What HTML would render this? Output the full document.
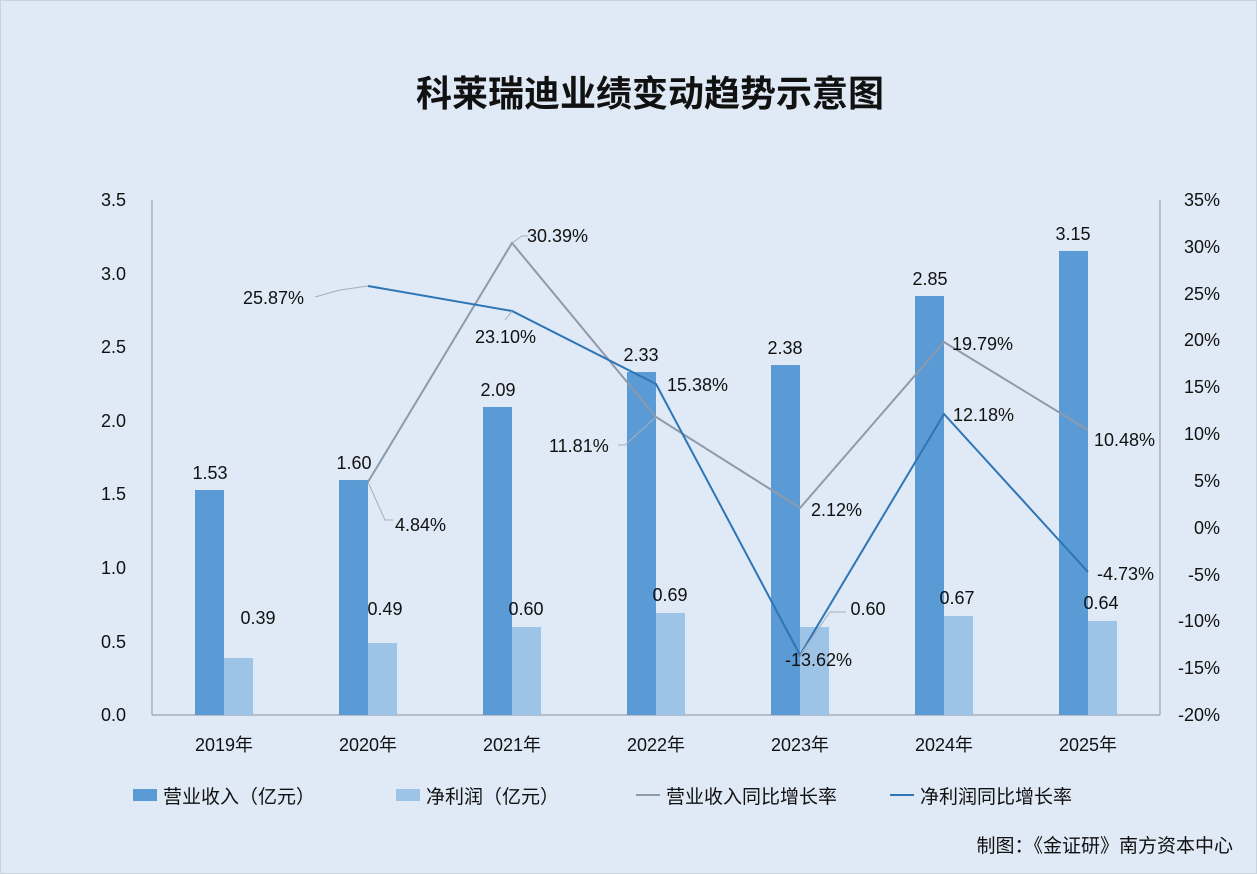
<!DOCTYPE html>
<html><head><meta charset="utf-8"><style>
body{margin:0;background:#dfeaf6;}
svg{display:block}
text{font-family:"Liberation Sans","Noto Sans CJK SC",sans-serif;fill:#111;}
</style></head><body>
<svg width="1257" height="874" viewBox="0 0 1257 874">
<rect x="0" y="0" width="1257" height="874" fill="#dfeaf6"/>
<rect x="0.5" y="0.5" width="1256" height="873" fill="none" stroke="#c8d3de"/>
<text x="650" y="106" font-size="36" font-weight="bold" text-anchor="middle">科莱瑞迪业绩变动趋势示意图</text>
<g stroke="#9aa3ad" stroke-width="1.2" fill="none">
<line x1="152" y1="200" x2="152" y2="715"/>
<line x1="152" y1="715" x2="1160" y2="715"/>
<line x1="1160" y1="200" x2="1160" y2="715"/>
</g>
<g font-size="18" text-anchor="end">
<text x="126" y="206">3.5</text><text x="126" y="280">3.0</text><text x="126" y="353">2.5</text>
<text x="126" y="427">2.0</text><text x="126" y="500">1.5</text><text x="126" y="574">1.0</text>
<text x="126" y="648">0.5</text><text x="126" y="721">0.0</text>
</g>
<g font-size="18" text-anchor="end">
<text x="1220" y="206">35%</text><text x="1220" y="253">30%</text><text x="1220" y="300">25%</text>
<text x="1220" y="346">20%</text><text x="1220" y="393">15%</text><text x="1220" y="440">10%</text>
<text x="1220" y="487">5%</text><text x="1220" y="534">0%</text><text x="1220" y="581">-5%</text>
<text x="1220" y="627">-10%</text><text x="1220" y="674">-15%</text><text x="1220" y="721">-20%</text>
</g>
<g fill="#5b9bd5">
<rect x="195" y="490" width="29" height="225"/>
<rect x="339" y="480" width="29" height="235"/>
<rect x="483" y="407" width="29" height="308"/>
<rect x="627" y="372" width="29" height="343"/>
<rect x="771" y="365" width="29" height="350"/>
<rect x="915" y="296" width="29" height="419"/>
<rect x="1059" y="251" width="29" height="464"/>
</g>
<g fill="#9dc3e6">
<rect x="224" y="658" width="29" height="57"/>
<rect x="368" y="643" width="29" height="72"/>
<rect x="512" y="627" width="29" height="88"/>
<rect x="656" y="613" width="29" height="102"/>
<rect x="800" y="627" width="29" height="88"/>
<rect x="944" y="616" width="29" height="99"/>
<rect x="1088" y="621" width="29" height="94"/>
</g>
<g font-size="18" text-anchor="middle">
<text x="210" y="479">1.53</text><text x="354" y="469">1.60</text><text x="498" y="396">2.09</text>
<text x="641" y="361">2.33</text><text x="785" y="354">2.38</text><text x="930" y="285">2.85</text>
<text x="1073" y="240">3.15</text>
<text x="258" y="624">0.39</text><text x="385" y="615">0.49</text><text x="526" y="615">0.60</text>
<text x="670" y="601">0.69</text><text x="868" y="615">0.60</text><text x="957" y="604">0.67</text>
<text x="1101" y="609">0.64</text>
</g>
<polyline fill="none" stroke="#8e9aab" stroke-width="2" points="368,482 512,243 656,417 800,508 944,342 1088,430"/>
<polyline fill="none" stroke="#2e75b6" stroke-width="2" points="368,286 512,311 656,384 800,655 944,414 1088,572"/>
<g stroke="#a6aeb8" stroke-width="1" fill="none">
<polyline points="315,297 340,290 368,286"/>
<polyline points="368,482 385,520 393,520"/>
<polyline points="512,243 522,236 528,236"/>
<polyline points="512,311 505,320"/>
<polyline points="656,417 625,445 618,445"/>
<polyline points="800,655 830,612 846,612"/>
</g>
<g font-size="18">
<text x="243" y="304">25.87%</text>
<text x="395" y="531">4.84%</text>
<text x="527" y="242">30.39%</text>
<text x="475" y="343">23.10%</text>
<text x="667" y="391">15.38%</text>
<text x="549" y="452">11.81%</text>
<text x="811" y="516">2.12%</text>
<text x="785" y="666">-13.62%</text>
<text x="952" y="350">19.79%</text>
<text x="953" y="421">12.18%</text>
<text x="1094" y="446">10.48%</text>
<text x="1097" y="580">-4.73%</text>
</g>
<g font-size="18" text-anchor="middle">
<text x="224" y="751">2019年</text><text x="368" y="751">2020年</text><text x="512" y="751">2021年</text>
<text x="656" y="751">2022年</text><text x="800" y="751">2023年</text><text x="944" y="751">2024年</text>
<text x="1088" y="751">2025年</text>
</g>
<g font-size="19">
<rect x="133" y="789" width="24" height="12" fill="#5b9bd5"/>
<text x="163" y="803">营业收入（亿元）</text>
<rect x="396" y="789" width="24" height="12" fill="#9dc3e6"/>
<text x="426" y="803">净利润（亿元）</text>
<line x1="636" y1="795" x2="660" y2="795" stroke="#8e9aab" stroke-width="2"/>
<text x="666" y="803">营业收入同比增长率</text>
<line x1="890" y1="795" x2="914" y2="795" stroke="#2e75b6" stroke-width="2"/>
<text x="920" y="803">净利润同比增长率</text>
</g>
<text x="1233" y="852" font-size="19" text-anchor="end">制图：《金证研》南方资本中心</text>
</svg>
</body></html>
